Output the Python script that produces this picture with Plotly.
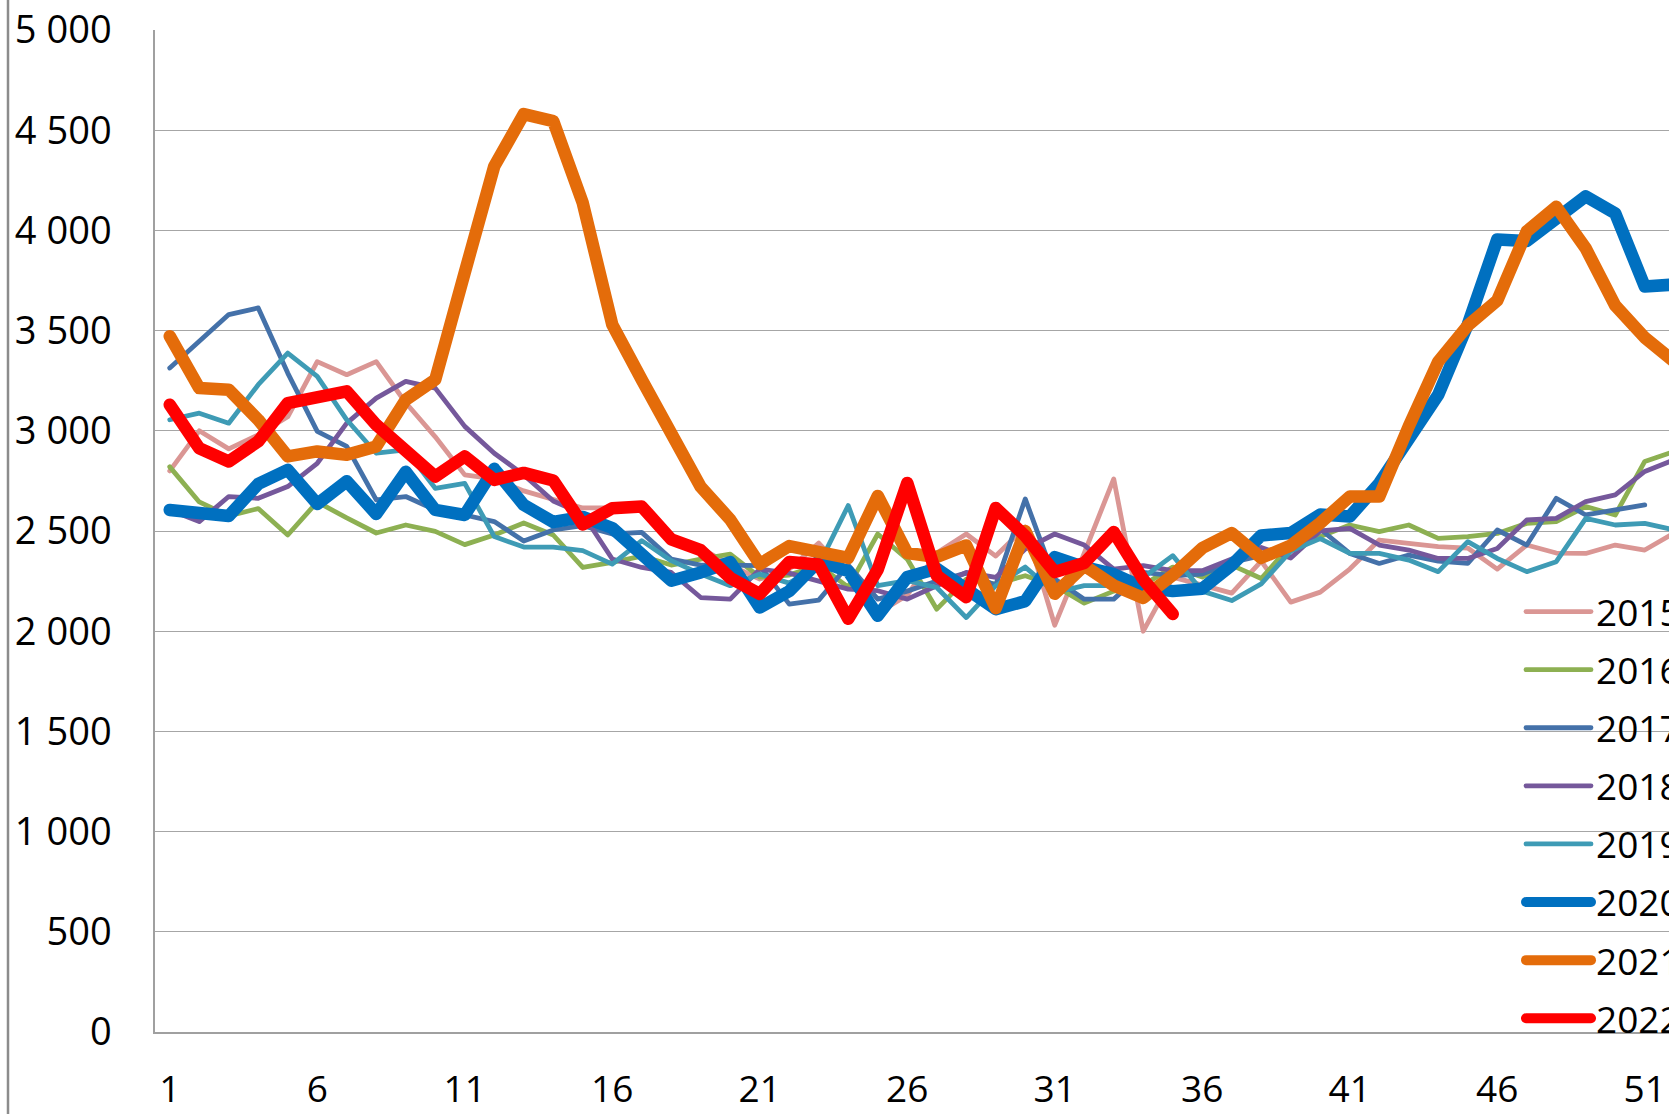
import plotly.graph_objects as go

weeks = list(range(1, 53))
x_tick_vals = [1, 6, 11, 16, 21, 26, 31, 36, 41, 46, 51]

y2015 = [2800, 3000, 2910, 2980, 3070, 3345, 3280, 3345, 3140, 2970, 2780, 2760, 2700, 2660,
         2615, 2615, 2600, 2450, 2415, 2330, 2260, 2310, 2440, 2280, 2090, 2180, 2390, 2485,
         2375, 2520, 2030, 2390, 2760, 2000, 2270, 2230, 2190, 2350, 2145, 2195, 2310, 2455,
         2438, 2422, 2415, 2310, 2430, 2390, 2388, 2430, 2405, 2490]
y2016 = [2820, 2645, 2575, 2612, 2480, 2645, 2565, 2490, 2530, 2498, 2432, 2480, 2540, 2480,
         2318, 2343, 2375, 2330, 2360, 2385, 2270, 2280, 2330, 2220, 2485, 2360, 2110, 2260,
         2235, 2277, 2227, 2140, 2200, 2230, 2320, 2270, 2330, 2263, 2430, 2472, 2530, 2497,
         2530, 2463, 2472, 2488, 2538, 2547, 2622, 2580, 2847, 2897]
y2017 = [3313, 3447, 3580, 3613, 3288, 2997, 2922, 2655, 2672, 2605, 2580, 2547, 2450, 2505,
         2527, 2485, 2493, 2360, 2330, 2330, 2327, 2135, 2155, 2330, 2160, 2200, 2250, 2290,
         2230, 2660, 2260, 2160, 2160, 2293, 2277, 2285, 2343, 2377, 2402, 2510, 2388, 2338,
         2380, 2350, 2338, 2505, 2430, 2663, 2580, 2605, 2630]
y2018 = [2605, 2547, 2672, 2663, 2722, 2838, 3038, 3163, 3247, 3213, 3022, 2888, 2780, 2650,
         2585, 2360, 2318, 2293, 2168, 2160, 2310, 2290, 2250, 2210, 2202, 2160, 2227, 2293,
         2268, 2410, 2485, 2430, 2310, 2327, 2302, 2302, 2360, 2418, 2365, 2500, 2513, 2430,
         2405, 2363, 2363, 2413, 2555, 2563, 2647, 2680, 2797, 2855]
y2019 = [3055, 3088, 3038, 3230, 3388, 3272, 3055, 2888, 2905, 2713, 2738, 2472, 2420, 2420,
         2402, 2335, 2452, 2352, 2285, 2227, 2285, 2240, 2330, 2627, 2227, 2252, 2218, 2068,
         2227, 2320, 2193, 2227, 2227, 2268, 2377, 2200, 2153, 2236, 2400, 2462, 2388, 2388,
         2355, 2297, 2447, 2363, 2297, 2347, 2563, 2530, 2538, 2505]
y2020 = [2605, 2585, 2575, 2735, 2805, 2635, 2748, 2585, 2795, 2605, 2580, 2810, 2630, 2545,
         2570, 2515, 2375, 2252, 2293, 2345, 2118, 2200, 2350, 2300, 2077, 2270, 2312, 2215,
         2110, 2150, 2370, 2320, 2285, 2218, 2200, 2212, 2330, 2478, 2490, 2582, 2572, 2738,
         2972, 3180, 3530, 3955, 3947, 4063, 4170, 4085, 3720, 3730]
y2021 = [3472, 3213, 3205, 3055, 2872, 2897, 2880, 2922, 3155, 3255, 3790, 4320, 4580, 4545,
         4137, 3530, 3255, 2975, 2720, 2557, 2335, 2425, 2393, 2366, 2675, 2390, 2370, 2428,
         2115, 2500, 2187, 2327, 2228, 2166, 2280, 2415, 2490, 2366, 2428, 2540, 2672, 2672,
         3022, 3345, 3525, 3650, 3995, 4118, 3910, 3625, 3465, 3345]
y2022 = [3130, 2913, 2847, 2947, 3138, 3172, 3197, 3030, 2905, 2772, 2872, 2755, 2790, 2752,
         2533, 2613, 2622, 2458, 2404, 2266, 2186, 2345, 2333, 2062, 2308, 2740, 2278, 2170,
         2615, 2475, 2295, 2340, 2495, 2258, 2086]

series_names = ["2015", "2016", "2017", "2018", "2019", "2020", "2021", "2022"]
series_values = [y2015, y2016, y2017, y2018, y2019, y2020, y2021, y2022]
series_colors = ["#DA9694", "#8DB052", "#4471A9", "#75589B", "#3E9BB5", "#0070C0", "#E46C0A", "#FF0000"]
series_widths = [4.8, 4.8, 4.8, 4.8, 4.8, 12.5, 12.5, 12.5]

FONT = "Open Sans"
W, H = 1669, 1114
L, T, B, R = 155, 30, 82, 0
WEEK_PX = 29.5

plot_w = W - L - R
plot_h = H - T - B

fig = go.Figure()
for name, vals, color, width in zip(series_names, series_values, series_colors, series_widths):
    fig.add_trace(go.Scatter(
        x=weeks[:len(vals)], y=vals, mode="lines", name=name, legendgroup=name,
        line=dict(color=color, width=width),
    ))

fig.update_layout(
    width=W, height=H,
    margin=dict(l=L, r=R, t=T, b=B, pad=0, autoexpand=False),
    paper_bgcolor="white", plot_bgcolor="white",
    font=dict(family=FONT, size=37, color="black"),
    separators=", ",
    showlegend=True,
    legend=dict(
        x=(1521 - L) / plot_w, xanchor="left",
        y=(1032 - 581) / plot_h, yanchor="top",
        bgcolor="rgba(0,0,0,0)", borderwidth=0,
        font=dict(family=FONT, size=37, color="black"),
        tracegroupgap=7, itemwidth=65, traceorder="grouped",
    ),
    xaxis=dict(
        range=[0.5, 0.5 + plot_w / WEEK_PX], tickmode="array", tickvals=x_tick_vals,
        ticktext=[str(v) for v in x_tick_vals],
        showgrid=False, zeroline=False, showline=True, linecolor="#A0A0A0", linewidth=1.5,
        ticks="", ticklabelstandoff=24,
    ),
    yaxis=dict(
        range=[0, 5000], dtick=500, tick0=0, tickformat=",d",
        tickfont=dict(family=FONT, size=38, color="black"),
        showgrid=True, gridcolor="#A6A6A6", gridwidth=1.4,
        zeroline=False, showline=True, linecolor="#A0A0A0", linewidth=1.5,
        ticks="", ticklabelstandoff=34,
    ),
    shapes=[dict(
        type="line", xref="paper", yref="paper",
        x0=(8 - L) / plot_w, x1=(8 - L) / plot_w,
        y0=-(B + 10) / plot_h, y1=1 + (T + 10) / plot_h,
        line=dict(color="#8C8C8C", width=2.5),
    )],
)

post = """
document.body.style.margin='0';
document.body.style.overflow='hidden';
document.documentElement.style.overflow='hidden';
function rnd(){
  document.querySelectorAll('.scatterlayer path.js-line').forEach(function(p){
    p.style.strokeLinejoin='round'; p.style.strokeLinecap='round';});
  document.querySelectorAll('.legendlines path').forEach(function(p){
    p.style.strokeLinecap='round';});
}
rnd(); setTimeout(rnd, 300);
"""

fig.write_html("out.html", post_script=post, config={"displayModeBar": False})
